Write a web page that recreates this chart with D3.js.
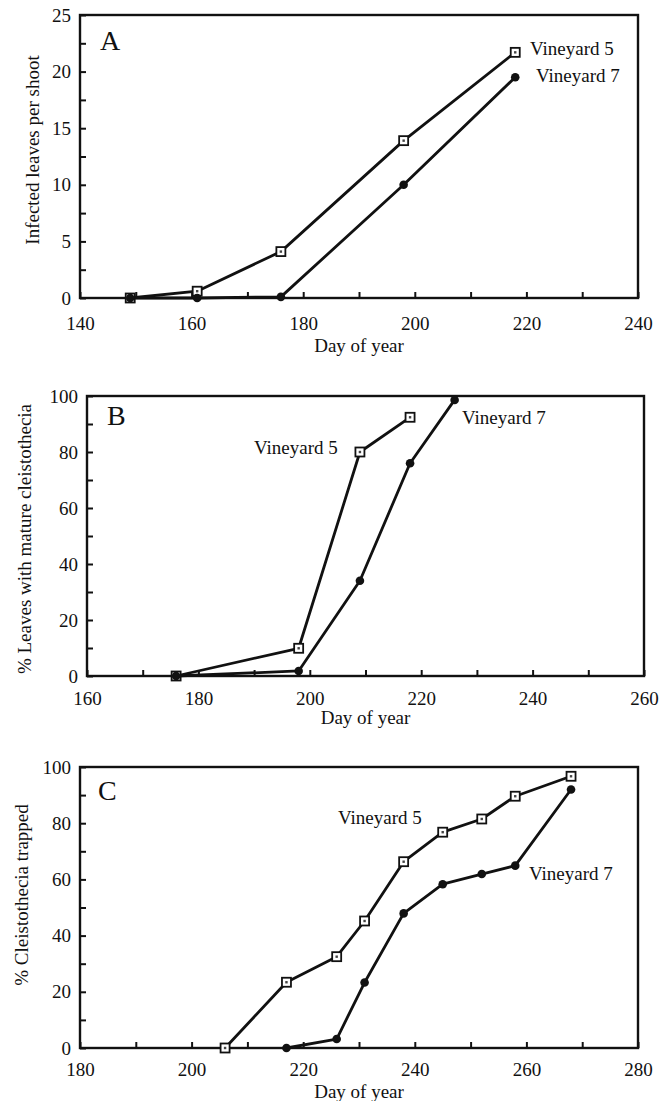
<!DOCTYPE html>
<html>
<head>
<meta charset="utf-8">
<script src="https://cdn.jsdelivr.net/npm/d3@7"></script>
<style>
  body { margin: 0; background: #fff; }
</style>
</head>
<body>
<script>
// Data
const daysA5 = [149, 161, 176, 198, 218];
const vineyard5A = [0, 0.6, 4.1, 13.9, 21.7];
const daysA7 = [149, 161, 176, 198, 218];
const vineyard7A = [0, 0, 0.1, 10, 19.5];

const daysB5 = [176, 198, 209, 218];
const vineyard5B = [0, 9.9, 80, 92.4];
const daysB7 = [176, 198, 209, 218, 226];
const vineyard7B = [0, 1.8, 34, 76, 98.6];

const daysC5 = [206, 217, 226, 231, 238, 245, 252, 258, 268];
const vineyard5C = [0, 23.4, 32.5, 45.2, 66.3, 76.8, 81.5, 89.6, 96.7];
const daysC7 = [217, 226, 231, 238, 245, 252, 258, 268];
const vineyard7C = [0, 3.2, 23.3, 47.9, 58.3, 61.9, 64.9, 92];

const xTicksA = [140, 160, 180, 200, 220, 240];
const yTicksA = [0, 5, 10, 15, 20, 25];
const xTicksB = [160, 180, 200, 220, 240, 260];
const yTicksB = [0, 20, 40, 60, 80, 100];
const xTicksC = [180, 200, 220, 240, 260, 280];
const yTicksC = [0, 20, 40, 60, 80, 100];

const FONT = '"Liberation Serif", "Times New Roman", serif';
const W = 666, H = 1101;
const svg = d3.select('body').append('svg')
  .attr('width', W)
  .attr('height', H)
  .style('font-family', FONT);

const panels = [
  {
    letter: 'A', left: 80, right: 638, top: 15, bottom: 298,
    xTicks: xTicksA, yTicks: yTicksA, xMinor: 10, yMinor: 2.5,
    yTitle: 'Infected leaves per shoot', yTitleX: 32, yTitleY: 150,
    labelGap: 19, xTitleY: 345, letterPos: [100, 50],
    s5: { days: daysA5, vals: vineyard5A }, s7: { days: daysA7, vals: vineyard7A },
    leg5: [530, 48], leg7: [536, 75]
  },
  {
    letter: 'B', left: 87, right: 644, top: 396, bottom: 676,
    xTicks: xTicksB, yTicks: yTicksB, xMinor: 10, yMinor: 10,
    yTitle: '% Leaves with mature cleistothecia', yTitleX: 24, yTitleY: 539,
    labelGap: 16, xTitleY: 717, letterPos: [107, 425],
    s5: { days: daysB5, vals: vineyard5B }, s7: { days: daysB7, vals: vineyard7B },
    leg5: [254, 447], leg7: [462, 417]
  },
  {
    letter: 'C', left: 80, right: 638, top: 767, bottom: 1048,
    xTicks: xTicksC, yTicks: yTicksC, xMinor: 10, yMinor: 10,
    yTitle: '% Cleistothecia trapped', yTitleX: 21, yTitleY: 895,
    labelGap: 15, xTitleY: 1091, letterPos: [98, 800],
    s5: { days: daysC5, vals: vineyard5C }, s7: { days: daysC7, vals: vineyard7C },
    leg5: [338, 817], leg7: [529, 873]
  }
];

function styleText(sel, size) {
  return sel.style('font-family', FONT).style('font-size', size + 'px').attr('fill', '#111');
}

panels.forEach(p => {
  const xExt = d3.extent(p.xTicks);
  const yExt = d3.extent(p.yTicks);
  const x = d3.scaleLinear().domain(xExt).range([p.left, p.right]);
  const y = d3.scaleLinear().domain(yExt).range([p.bottom, p.top]);
  const xStep = p.xTicks[1] - p.xTicks[0];
  const yStep = p.yTicks[1] - p.yTicks[0];

  const g = svg.append('g');

  // x axis, ticks pointing inside
  const xAll = d3.range(xExt[0], xExt[1] + 0.001, p.xMinor);
  g.append('g')
    .attr('transform', `translate(0,${p.bottom})`)
    .call(d3.axisBottom(x)
      .tickValues(xAll)
      .tickSizeInner(-6)
      .tickSizeOuter(0)
      .tickPadding(p.labelGap)
      .tickFormat(d => (d - xExt[0]) % xStep === 0 ? d : ''))
    .attr('font-family', null)
    .call(a => a.select('.domain').remove())
    .call(a => a.selectAll('line').attr('stroke', '#111').attr('stroke-width', 2))
    .call(a => styleText(a.selectAll('text'), 19));

  // y axis
  const yAll = d3.range(yExt[0], yExt[1] + 0.001, p.yMinor);
  g.append('g')
    .attr('transform', `translate(${p.left},0)`)
    .call(d3.axisLeft(y)
      .tickValues(yAll)
      .tickSizeInner(-6)
      .tickSizeOuter(0)
      .tickPadding(9)
      .tickFormat(d => d % yStep === 0 ? d : ''))
    .attr('font-family', null)
    .call(a => a.select('.domain').remove())
    .call(a => a.selectAll('line').attr('stroke', '#111').attr('stroke-width', 2))
    .call(a => styleText(a.selectAll('text'), 19));

  // frame
  g.append('rect')
    .attr('x', p.left).attr('y', p.top)
    .attr('width', p.right - p.left).attr('height', p.bottom - p.top)
    .attr('fill', 'none').attr('stroke', '#111').attr('stroke-width', 2.4);

  // titles
  styleText(g.append('text'), 19)
    .attr('x', (p.left + p.right) / 2).attr('y', p.xTitleY)
    .attr('text-anchor', 'middle').attr('dominant-baseline', 'central')
    .text('Day of year');

  styleText(g.append('text'), 19)
    .attr('transform', `translate(${p.yTitleX},${p.yTitleY}) rotate(-90)`)
    .attr('text-anchor', 'middle').attr('dominant-baseline', 'central')
    .text(p.yTitle);

  styleText(g.append('text'), 28)
    .attr('x', p.letterPos[0]).attr('y', p.letterPos[1])
    .text(p.letter);

  // lines
  const line = d3.line().x(d => x(d[0])).y(d => y(d[1]));
  const pts5 = d3.zip(p.s5.days, p.s5.vals);
  const pts7 = d3.zip(p.s7.days, p.s7.vals);

  g.append('path').datum(pts5).attr('d', line)
    .attr('fill', 'none').attr('stroke', '#111').attr('stroke-width', 2.8)
    .attr('stroke-linejoin', 'round');
  g.append('path').datum(pts7).attr('d', line)
    .attr('fill', 'none').attr('stroke', '#111').attr('stroke-width', 2.8)
    .attr('stroke-linejoin', 'round');

  // Vineyard 5 markers: open square with dot
  const m5 = g.append('g').selectAll('g').data(pts5).join('g')
    .attr('transform', d => `translate(${x(d[0])},${y(d[1])})`);
  m5.append('rect')
    .attr('x', -4.5).attr('y', -4.5).attr('width', 9).attr('height', 9)
    .attr('fill', '#fff').attr('stroke', '#111').attr('stroke-width', 1.8);
  m5.append('rect')
    .attr('x', -1.2).attr('y', -1.2).attr('width', 2.4).attr('height', 2.4)
    .attr('fill', '#444');

  // Vineyard 7 markers: filled dot-like diamond
  g.append('g').selectAll('circle').data(pts7).join('circle')
    .attr('cx', d => x(d[0])).attr('cy', d => y(d[1]))
    .attr('r', 4.3)
    .attr('fill', '#111');

  // series labels
  styleText(g.append('text'), 19)
    .attr('x', p.leg5[0]).attr('y', p.leg5[1])
    .attr('dominant-baseline', 'central')
    .text('Vineyard 5');
  styleText(g.append('text'), 19)
    .attr('x', p.leg7[0]).attr('y', p.leg7[1])
    .attr('dominant-baseline', 'central')
    .text('Vineyard 7');
});
</script>
</body>
</html>
